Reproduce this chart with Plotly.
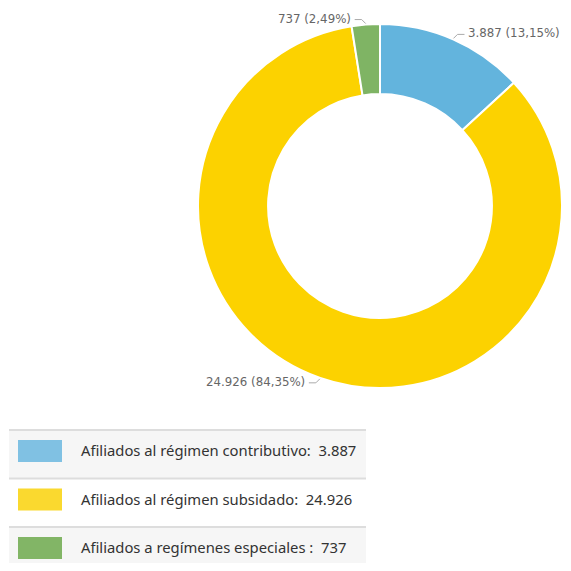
import math
import plotly.graph_objects as go

# ---- data ----
categories = ["Afiliados al régimen contributivo", "Afiliados al régimen subsidado", "Afiliados a regímenes especiales"]
legend_names = ["Afiliados al régimen contributivo:", "Afiliados al régimen subsidado:", "Afiliados a regímenes especiales :"]
values = [3887, 24926, 737]
pie_colors = ["#63b4dd", "#fcd200", "#7fb464"]
legend_colors = ["#80c1e3", "#fad92f", "#82b566"]

OFF = 8  # page body margin
W = 571 - 2 * OFF
H = 571 - 2 * OFF
CX, CY, R = 380, 206, 182
HOLE = 0.615


def fmt_int(v):
    return f"{v:,}".replace(",", ".")


def fmt_pct(p):
    return f"{p:.2f}".replace(".", ",") + "%"


def px(x):
    return (x - OFF) / W


def py(y):
    return 1 - (y - OFF) / H


fig = go.Figure()
fig.add_trace(go.Pie(
    labels=categories, values=values, hole=HOLE, sort=False,
    direction="clockwise", rotation=0,
    marker=dict(colors=pie_colors, line=dict(color="white", width=2)),
    textinfo="none", hoverinfo="label+value+percent", showlegend=False,
    domain=dict(x=[px(CX - R), px(CX + R)], y=[py(CY + R), py(CY - R)]),
))

total = sum(values)
annotations = []
shapes = []
cum = 0
for v, c in zip(values, categories):
    mid = (cum + v / 2) / total
    cum += v
    ang = 2 * math.pi * mid
    ex = CX + (R + 1) * math.sin(ang)
    ey = CY - (R + 1) * math.cos(ang)
    right = math.sin(ang) >= 0
    top = math.cos(ang) >= 0
    side = 1 if right else -1
    ly = ey - 4 if top else ey + 4
    elbow_x = ex + side * 4
    end_x = ex + side * 11
    shapes.append(dict(type="path", xref="paper", yref="paper",
                       path=f"M {px(ex)} {py(ey)} L {px(elbow_x)} {py(ly)} L {px(end_x)} {py(ly)}",
                       line=dict(color="#aaaaaa", width=1)))
    text = f"{fmt_int(v)} ({fmt_pct(100 * v / total)})"
    annotations.append(dict(x=px(end_x + side * 2), y=py(ly - 1), xref="paper", yref="paper",
                            text=text, showarrow=False,
                            xanchor="left" if right else "right", yanchor="middle",
                            font=dict(family="DejaVu Sans", size=11.8, color="#666666")))

# ---- custom legend panel ----
row_top = 430
row_h = 48.5
panel_x0, panel_x1 = 9, 366
row_bg = ["#f6f6f6", "#ffffff", "#f6f6f6"]
for i, (name, v, col) in enumerate(zip(legend_names, values, legend_colors)):
    y0 = row_top + i * row_h
    y1 = min(y0 + row_h, OFF + H)
    shapes.append(dict(type="rect", xref="paper", yref="paper",
                       x0=px(panel_x0), x1=px(panel_x1), y0=py(y1), y1=py(y0),
                       fillcolor=row_bg[i], line=dict(width=0), layer="below"))
    shapes.append(dict(type="line", xref="paper", yref="paper",
                       x0=px(panel_x0), x1=px(panel_x1), y0=py(y0), y1=py(y0),
                       line=dict(color="#dddddd", width=2)))
    ym = y0 + 21
    shapes.append(dict(type="rect", xref="paper", yref="paper",
                       x0=px(18), x1=px(62), y0=py(ym + 11), y1=py(ym - 11),
                       fillcolor=col, line=dict(width=0)))
    annotations.append(dict(x=px(79), y=py(ym - 1), xref="paper", yref="paper",
                            text=f"{name}&nbsp;&nbsp;{fmt_int(v)}", showarrow=False,
                            xanchor="left", yanchor="middle",
                            font=dict(family="Noto Sans", size=14.8, color="#333333")))

fig.update_layout(
    width=W, height=H,
    margin=dict(l=0, r=0, t=0, b=0),
    paper_bgcolor="white", plot_bgcolor="white",
    showlegend=False,
    annotations=annotations, shapes=shapes,
)

fig.write_html("out.html")
